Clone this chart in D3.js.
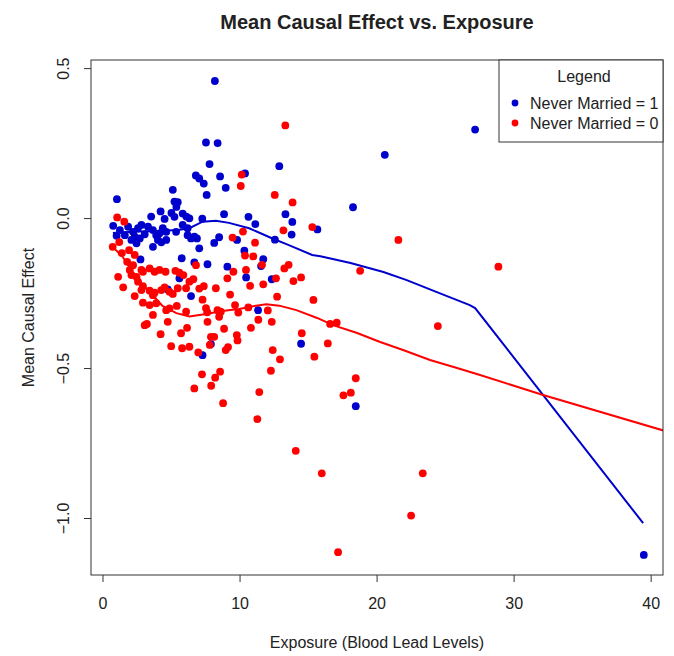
<!DOCTYPE html>
<html>
<head>
<meta charset="utf-8">
<script src="https://cdn.jsdelivr.net/npm/d3@7"></script>
<style>
  body { margin: 0; background: #fff; }
  svg text { font-family: "Liberation Sans", Arial, sans-serif; fill: #222; }
</style>
</head>
<body>
<div id="chart"></div>
<script>
// Never Married = 1
let blueX = [8.20, 7.55, 8.40, 7.81, 12.90, 6.81, 7.06, 8.58, 7.39, 8.99, 10.40, 7.60, 5.13, 1.05, 5.25, 5.49, 5.39, 4.24, 4.53, 5.03,
    5.25, 3.55, 5.85, 6.12, 7.28, 8.87, 10.65, 11.15, 13.35, 13.85, 13.80, 12.58, 9.82, 8.51, 8.15, 6.89, 7.06, 10.35, 11.73, 11.57,
    15.68, 18.28, 20.60, 27.19, 0.78, 1.27, 1.03, 1.87, 2.23, 2.59, 2.84, 2.35, 2.72, 3.08, 3.32, 3.68, 3.92, 4.16, 4.40, 4.65,
    3.68, 4.04, 4.29, 2.11, 2.48, 5.37, 4.65, 6.21, 6.46, 6.70, 5.85, 6.21, 1.63, 6.34, 5.78, 6.70, 7.66, 9.11, 2.77, 10.48,
    12.35, 5.61, 4.76, 6.46, 11.35, 7.91, 7.30, 14.49, 18.48, 39.50];
let blueY = [0.457, 0.252, 0.250, 0.180, 0.173, 0.142, 0.132, 0.139, 0.115, 0.101, 0.149, 0.077, 0.094, 0.063, 0.055, 0.053, 0.037, 0.022, -0.003, 0.017,
    0.004, 0.005, 0.015, 0.005, -0.002, 0.013, 0.004, -0.020, 0.013, -0.013, -0.055, -0.072, -0.073, -0.064, -0.083, -0.068, -0.101, -0.109, -0.137, -0.160,
    -0.038, 0.036, 0.211, 0.295, -0.026, -0.040, -0.059, -0.029, -0.046, -0.034, -0.023, -0.062, -0.068, -0.054, -0.029, -0.040, -0.057, -0.051, -0.034, -0.046,
    -0.096, -0.073, -0.081, -0.073, -0.084, -0.046, -0.073, -0.057, -0.068, -0.062, -0.023, -0.034, -0.057, -0.001, -0.134, -0.148, -0.154, -0.162, -0.138, -0.198,
    -0.204, -0.201, -0.238, -0.260, -0.307, -0.420, -0.457, -0.419, -0.627, -1.123];

// Never Married = 0
let redX = [13.34, 10.16, 10.09, 12.57, 13.87, 13.20, 10.25, 9.49, 11.13, 1.07, 1.59, 1.22, 0.74, 1.41, 1.94, 2.35, 10.40, 11.00, 15.31, 21.59,
    28.89, 11.64, 13.27, 13.58, 9.55, 10.47, 12.66, 13.93, 14.49, 18.80, 10.77, 11.73, 9.31, 12.74, 15.39, 9.67, 10.64, 9.91, 12.06, 11.37,
    12.35, 10.83, 16.61, 17.09, 24.47, 9.80, 9.85, 14.54, 16.44, 12.42, 12.95, 15.46, 12.29, 18.48, 17.58, 18.12, 11.44, 11.30, 14.10, 16.00,
    23.37, 22.52, 17.19, 1.80, 2.23, 2.84, 1.99, 2.11, 2.48, 1.14, 1.51, 2.95, 3.44, 3.80, 4.16, 4.60, 2.59, 2.95, 2.84, 3.44,
    3.80, 2.35, 2.95, 3.44, 3.92, 3.68, 4.29, 4.53, 4.89, 5.13, 5.49, 5.32, 5.61, 5.90, 6.34, 6.63, 6.82, 7.06, 7.39, 6.10,
    7.30, 8.27, 9.11, 4.65, 4.89, 3.68, 5.42, 6.10, 7.55, 7.64, 8.39, 8.63, 8.51, 7.66, 8.87, 4.76, 3.08, 3.24, 4.24, 5.73,
    6.17, 5.01, 5.81, 6.34, 7.91, 8.15, 8.99, 9.16, 6.99, 7.83, 7.26, 8.58, 8.22, 6.70, 7.93, 8.80];
let redY = [0.309, 0.145, 0.107, 0.077, 0.052, -0.041, -0.045, -0.065, -0.082, 0.002, -0.012, -0.080, -0.096, -0.117, -0.107, -0.123, -0.125, -0.128, -0.030, -0.073,
    -0.162, -0.156, -0.168, -0.156, -0.179, -0.173, -0.201, -0.210, -0.198, -0.176, -0.226, -0.221, -0.255, -0.262, -0.273, -0.290, -0.298, -0.315, -0.308, -0.339,
    -0.346, -0.366, -0.353, -0.349, -0.360, -0.390, -0.408, -0.384, -0.418, -0.440, -0.471, -0.462, -0.509, -0.534, -0.591, -0.582, -0.580, -0.670, -0.776, -0.851,
    -0.851, -0.992, -1.114, -0.146, -0.157, -0.173, -0.173, -0.190, -0.196, -0.196, -0.231, -0.179, -0.168, -0.179, -0.173, -0.179, -0.212, -0.227, -0.240, -0.242,
    -0.249, -0.260, -0.282, -0.290, -0.284, -0.257, -0.240, -0.231, -0.246, -0.253, -0.234, -0.176, -0.182, -0.190, -0.212, -0.204, -0.157, -0.235, -0.227, -0.234,
    -0.272, -0.234, -0.201, -0.307, -0.301, -0.323, -0.293, -0.312, -0.300, -0.314, -0.307, -0.312, -0.329, -0.346, -0.369, -0.346, -0.357, -0.353, -0.387, -0.384,
    -0.366, -0.427, -0.434, -0.429, -0.396, -0.396, -0.440, -0.430, -0.448, -0.423, -0.521, -0.512, -0.532, -0.568, -0.559, -0.617];

// smoothed fits
let blueFitX = [0.76, 2.2, 4.0, 5.5, 6.34, 7.30, 8.27, 9.23, 10.7, 12.4, 13.6, 15.3, 15.9, 18.1, 20.5, 22.2, 24.4, 26.8, 27.19, 39.45];
let blueFitY = [-0.050, -0.046, -0.043, -0.040, -0.034, -0.012, -0.009, -0.016, -0.034, -0.068, -0.090, -0.123, -0.127, -0.150, -0.180, -0.207, -0.247, -0.290, -0.300, -1.017];
let redFitX = [0.76, 1.48, 2.21, 2.93, 3.66, 4.38, 5.39, 6.34, 7.57, 8.73, 9.96, 11.2, 11.95, 12.9, 14.15, 15.66, 16.82, 18.58, 20.26, 21.93, 23.9, 25.87, 27.55, 32.15, 41.06];
let redFitY = [-0.097, -0.130, -0.180, -0.223, -0.257, -0.293, -0.317, -0.328, -0.320, -0.310, -0.303, -0.292, -0.287, -0.292, -0.307, -0.333, -0.357, -0.383, -0.413, -0.440, -0.473, -0.500, -0.523, -0.590, -0.710];

let xTicks = [0, 10, 20, 30, 40];
let yTicks = [0.5, 0.0, -0.5, -1.0];
let legendLabels = ['Never Married = 1', 'Never Married = 0'];

let blueCol = '#0000CD',
    redCol = '#FF0000';

let width = 674,
    height = 656,
    margin = {left: 91, top: 60, right: 11, bottom: 81},
    clipWidth = width - margin.left - margin.right,
    clipHeight = height - margin.top - margin.bottom;

let svg = d3.select('#chart').append('svg')
    .attr('width', width)
    .attr('height', height);

let g = svg.append('g')
    .attr('transform', `translate(${margin.left}, ${margin.top})`);

let xScale = d3.scaleLinear()
    .domain([-0.84, 40.9])
    .range([0, clipWidth]);

let yScale = d3.scaleLinear()
    .domain([-1.19, 0.527])
    .range([clipHeight, 0]);

svg.append('defs').append('clipPath')
    .attr('id', 'plotClip')
    .append('rect')
    .attr('width', clipWidth)
    .attr('height', clipHeight);

// axes (R style: ticks only, the box is the axis line)
let xAxis = g.append('g')
    .attr('transform', `translate(0, ${clipHeight})`)
    .call(d3.axisBottom(xScale).tickValues(xTicks).tickSize(7).tickSizeOuter(0).tickPadding(16).tickFormat(d3.format('d')));

let yAxis = g.append('g')
    .call(d3.axisLeft(yScale).tickValues(yTicks).tickSize(7).tickSizeOuter(0).tickFormat(d3.format('.1f')));

[xAxis, yAxis].forEach(a => {
    a.select('.domain').remove();
    a.selectAll('line').attr('stroke', '#333');
    a.selectAll('text').style('font-size', '16px').attr('fill', '#222');
});

yAxis.selectAll('text')
    .attr('x', null).attr('dy', null)
    .attr('transform', 'translate(-22, 0) rotate(-90)')
    .style('text-anchor', 'middle');

// points
let points = blueX.map((x, i) => ({x: x, y: blueY[i], c: blueCol}))
    .concat(redX.map((x, i) => ({x: x, y: redY[i], c: redCol})));

g.append('g')
    .selectAll('circle')
    .data(points)
    .join('circle')
    .attr('cx', d => xScale(d.x))
    .attr('cy', d => yScale(d.y))
    .attr('r', 3.9)
    .attr('fill', d => d.c);

// fitted lines
let line = d3.line()
    .x(d => xScale(d[0]))
    .y(d => yScale(d[1]));

let lineG = g.append('g').attr('clip-path', 'url(#plotClip)');

lineG.append('path')
    .datum(blueFitX.map((x, i) => [x, blueFitY[i]]))
    .attr('d', line)
    .attr('fill', 'none')
    .attr('stroke', blueCol)
    .attr('stroke-width', 2);

lineG.append('path')
    .datum(redFitX.map((x, i) => [x, redFitY[i]]))
    .attr('d', line)
    .attr('fill', 'none')
    .attr('stroke', redCol)
    .attr('stroke-width', 2);

// box
g.append('rect')
    .attr('width', clipWidth)
    .attr('height', clipHeight)
    .attr('fill', 'none')
    .attr('stroke', '#333');

// legend
let legend = g.append('g')
    .attr('transform', `translate(${clipWidth - 164}, 0)`);

legend.append('rect')
    .attr('width', 164)
    .attr('height', 82)
    .attr('fill', '#fff')
    .attr('stroke', '#333');

legend.append('text')
    .attr('x', 85)
    .attr('y', 22)
    .style('text-anchor', 'middle')
    .style('font-size', '16px')
    .text('Legend');

legend.selectAll('.key')
    .data(legendLabels)
    .join('g')
    .attr('class', 'key')
    .attr('transform', (d, i) => `translate(16, ${43 + i * 20})`)
    .each(function (d, i) {
        d3.select(this).append('circle')
            .attr('r', 3.4)
            .attr('fill', i === 0 ? blueCol : redCol);
        d3.select(this).append('text')
            .attr('x', 15)
            .attr('dy', '0.35em')
            .style('font-size', '16px')
            .text(d);
    });

// titles
svg.append('text')
    .attr('x', margin.left + clipWidth / 2)
    .attr('y', 29)
    .style('text-anchor', 'middle')
    .style('font-size', '20px')
    .style('font-weight', 'bold')
    .attr('fill', '#000')
    .text('Mean Causal Effect vs. Exposure');

svg.append('text')
    .attr('x', margin.left + clipWidth / 2)
    .attr('y', 648)
    .style('text-anchor', 'middle')
    .style('font-size', '16px')
    .text('Exposure (Blood Lead Levels)');

svg.append('text')
    .attr('transform', `translate(34, ${margin.top + clipHeight / 2}) rotate(-90)`)
    .style('text-anchor', 'middle')
    .style('font-size', '16px')
    .text('Mean Causal Effect');
</script>
</body>
</html>
